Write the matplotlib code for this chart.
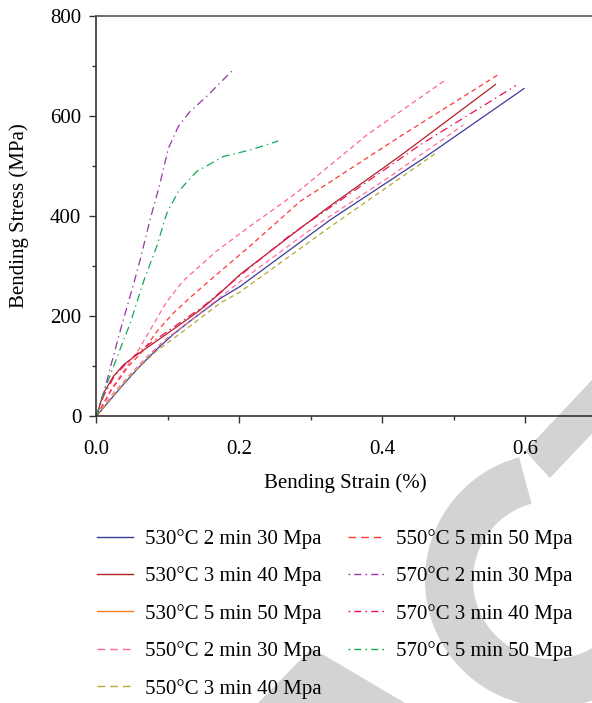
import numpy as np
import matplotlib
matplotlib.use('Agg')
import matplotlib.pyplot as plt
from matplotlib.lines import Line2D
from matplotlib.patches import Polygon

plt.rcParams['font.family'] = ['Liberation Serif', 'DejaVu Serif']

# ---- data (strain in %, stress in MPa) ----
strain_530_2 = [0, 0.019, 0.0375, 0.061, 0.084, 0.107, 0.131, 0.173, 0.2007, 0.271, 0.3266, 0.457, 0.598]
stress_530_2 = [0, 32, 63, 100, 133, 163, 190, 235, 259, 333, 392, 515, 655]

strain_530_3 = [0, 0.0095, 0.0235, 0.0375, 0.056, 0.084, 0.112, 0.145, 0.173, 0.2007, 0.2846, 0.3266, 0.4245, 0.558]
stress_530_3 = [0, 45, 79, 102, 122, 150, 178, 212, 246, 283, 375, 420, 520, 663]

strain_530_5 = [0, 0.02, 0.045, 0.07, 0.098, 0.131, 0.2, 0.308, 0.4105, 0.513]
stress_530_5 = [0, 40, 80, 118, 155, 190, 268, 382, 479, 582]

strain_550_2 = [0, 0.02, 0.045, 0.06, 0.075, 0.098, 0.121, 0.168, 0.215, 0.266, 0.2846, 0.378, 0.487]
stress_550_2 = [0, 52, 105, 135, 172, 228, 270, 330, 380, 432, 452, 562, 671]

strain_550_3 = [0, 0.02, 0.047, 0.084, 0.131, 0.173, 0.2007, 0.3266, 0.476]
stress_550_3 = [0, 35, 80, 130, 180, 226, 248, 378, 527]

strain_550_5 = [0, 0.02, 0.045, 0.065, 0.085, 0.107, 0.131, 0.159, 0.2147, 0.2846, 0.4245, 0.5634]
stress_550_5 = [0, 50, 100, 130, 170, 205, 237, 272, 340, 429, 559, 684]

strain_570_2 = [0, 0.01, 0.019, 0.035, 0.0515, 0.061, 0.0748, 0.0888, 0.1004, 0.1144, 0.1308, 0.154, 0.1914]
stress_570_2 = [0, 45, 95, 180, 262, 312, 392, 465, 535, 579, 609, 639, 693]

strain_570_3 = [0, 0.01, 0.025, 0.045, 0.065, 0.1, 0.15, 0.2, 0.271, 0.3126, 0.4524, 0.5867]
stress_570_3 = [0, 40, 80, 110, 135, 170, 220, 280, 362, 403, 542, 661]

strain_570_5 = [0, 0.0095, 0.028, 0.047, 0.0665, 0.0842, 0.0982, 0.1144, 0.1401, 0.1774, 0.2147, 0.2543]
stress_570_5 = [0, 45, 115, 185, 272, 339, 405, 449, 489, 519, 532, 550]

labels = ['530°C 2 min 30 Mpa', '530°C 3 min 40 Mpa', '530°C 5 min 50 Mpa',
          '550°C 2 min 30 Mpa', '550°C 3 min 40 Mpa', '550°C 5 min 50 Mpa',
          '570°C 2 min 30 Mpa', '570°C 3 min 40 Mpa', '570°C 5 min 50 Mpa']
strains = [strain_530_2, strain_530_3, strain_530_5, strain_550_2, strain_550_3,
           strain_550_5, strain_570_2, strain_570_3, strain_570_5]
stresses = [stress_530_2, stress_530_3, stress_530_5, stress_550_2, stress_550_3,
            stress_550_5, stress_570_2, stress_570_3, stress_570_5]

colors = ['#3c3c9c', '#b0202a', '#ff8020', '#ff6699', '#b8a830',
          '#ff3838', '#9933aa', '#ee1155', '#11aa55']
dash = (0, (4, 2.8))
dashdot = (0, (6.4, 3.2, 1.1, 3.2))
styles = ['-', '-', '-', dash, dash, dash, dashdot, dashdot, dashdot]
# the 530°C 5 min curve is drawn pink dashed in the figure although its key is orange
curve_colors = colors[:2] + ['#ff6fa0'] + colors[3:]
curve_styles = styles[:2] + [dash] + styles[3:]

fig = plt.figure(figsize=(5.92, 7.03), dpi=100)

# watermark in the background (pixel coords)
bg = fig.add_axes([0, 0, 1, 1], zorder=-5)
bg.set_xlim(0, 592)
bg.set_ylim(703, 0)
bg.axis('off')
grey = '#d3d3d3'
bg.add_patch(Polygon([(525, 451), (550, 478), (640, 383), (640, 329)], closed=True, color=grey, lw=0))
bg.add_patch(Polygon([(258, 703), (312, 648), (405, 703)], closed=True, color=grey, lw=0))
th = np.radians(np.linspace(-20, 255, 200))
cx, cy = 552, 580
ring = np.vstack([np.column_stack([cx + 127 * np.cos(th), cy + 127 * np.sin(th)]),
                  np.column_stack([cx + 79 * np.cos(th[::-1]), cy + 79 * np.sin(th[::-1])])])
bg.add_patch(Polygon(ring, closed=True, color=grey, lw=0))

ax = fig.add_axes([96.5 / 592, 287 / 703, 500.5 / 592, 400 / 703], zorder=1)
ax.set_facecolor('none')

for x, y, c, ls in zip(strains, stresses, curve_colors, curve_styles):
    ax.plot(x, y, color=c, linestyle=ls, lw=0.9)

ax.set_xlim(0, 0.7)
ax.set_ylim(0, 800)
ax.set_xticks([0, 0.2, 0.4, 0.6])
ax.set_xticklabels(['0.0', '0.2', '0.4', '0.6'])
ax.set_xticks([0.1, 0.3, 0.5, 0.7], minor=True)
ax.set_yticks([0, 200, 400, 600, 800])
ax.set_yticks([100, 300, 500, 700], minor=True)
ax.tick_params(which='major', direction='out', length=5, width=1, labelsize=15, color='#333333', pad=6)
ax.tick_params(which='minor', direction='out', length=3, width=1, color='#333333')
ax.tick_params(axis='x', which='major', pad=12)
for s in ['left', 'bottom']:
    ax.spines[s].set_color('#333333')
    ax.spines[s].set_linewidth(1.2)
ax.spines['top'].set_color('#555555')
ax.spines['top'].set_linewidth(1.2)
ax.spines['right'].set_visible(False)

ax.set_xlabel('Bending Strain (%)', fontsize=15)
ax.set_ylabel('Bending Stress (MPa)', fontsize=15, labelpad=15)
ax.xaxis.set_label_coords((345 - 96.5) / 500.5, -(473 - 416) / 400)

leg_dash = (0, (5.5, 3.6))
leg_dashdot = (0, (1.2, 3.0, 5.0, 3.0))
legend_styles = ['-', '-', '-', leg_dash, leg_dash, leg_dash, leg_dashdot, leg_dashdot, leg_dashdot]
handles = [Line2D([], [], color=c, linestyle=ls, lw=1.0) for c, ls in zip(colors, legend_styles)]
fig.legend(handles, labels, loc='upper left', bbox_to_anchor=(97 / 592, 1 - 529 / 703),
           ncol=2, frameon=False, fontsize=15, handlelength=1.75, handletextpad=0.55,
           labelspacing=0.84, columnspacing=1.25, borderpad=0, borderaxespad=0)

fig.savefig('out.png', dpi=100)
